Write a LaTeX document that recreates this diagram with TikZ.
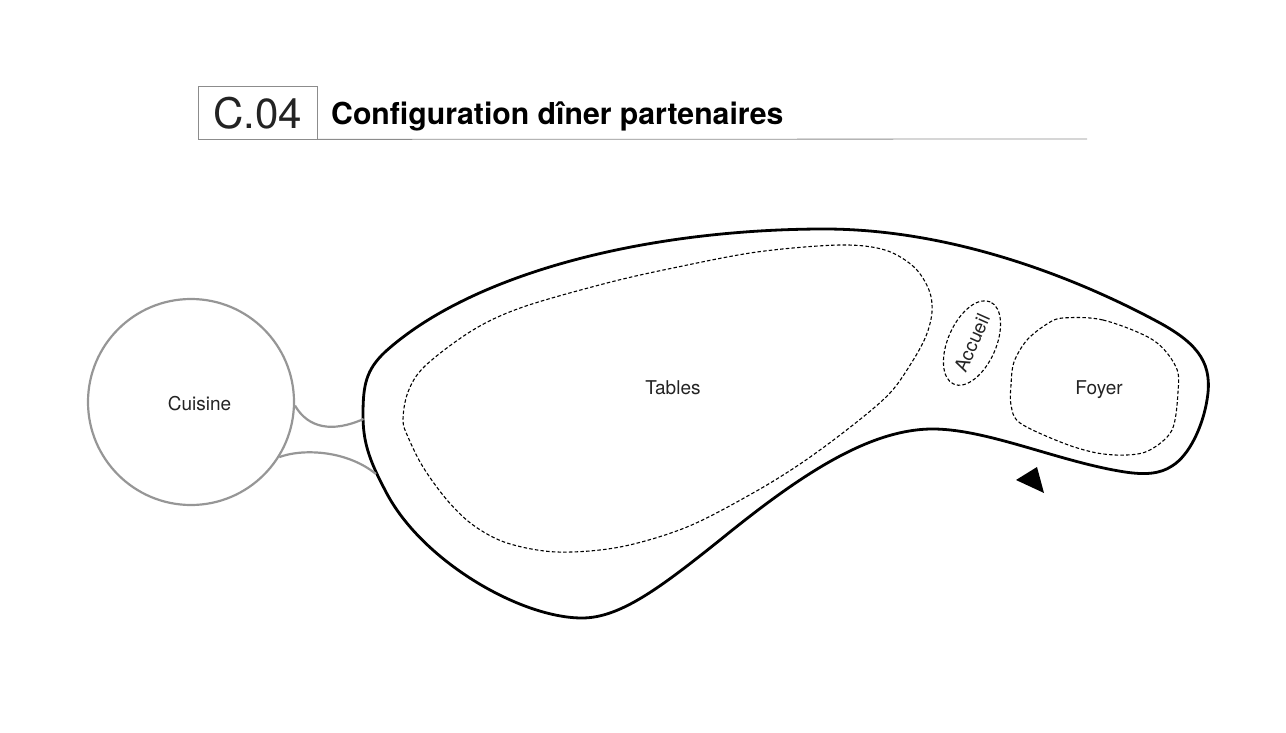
\documentclass[tikz,border=0pt]{standalone}
\usepackage{fontspec}
\setmainfont{TeX Gyre Heros}
\usetikzlibrary{shapes.geometric}
\definecolor{circgray}{RGB}{150,150,150}
\definecolor{rulegray}{RGB}{140,140,140}
\definecolor{labelcol}{RGB}{35,35,35}
\tikzset{
  outline/.style={line width=2.8pt, black, line join=round},
  zone/.style={line width=1.1pt, black, dash pattern=on 3.5pt off 2.2pt},
  link/.style={line width=2.2pt, circgray},
  lbl/.style={text=labelcol, font=\fontsize{19}{22}\selectfont, inner sep=0pt},
}
\begin{document}
\begin{tikzpicture}[x=1pt,y=-1pt]
\useasboundingbox (0,0) rectangle (1286,733);

% header
\node[draw=rulegray, line width=0.8pt, minimum width=119pt, minimum height=53pt, inner sep=0pt,
      font=\fontsize{42}{46}\selectfont, text=labelcol, text depth=0pt] (code) at (257.5,112.5) {C.04};
\coordinate (ruleend) at (1087,139);
\draw[rulegray, line width=0.8pt] (code.south east) -- (ruleend);
\node[anchor=base west, inner sep=0pt, font=\bfseries\fontsize{30.2}{34}\selectfont] (title) at (331,125) {Configuration dîner partenaires};

% main outline
\draw[outline] (363,415) .. controls (363,385) and (366,370) .. (385,352)
  .. controls (470,275) and (640,230) .. (820,229)
  .. controls (960,228) and (1090,285) .. (1160,323)
  .. controls (1200,345) and (1213,365) .. (1207,400)
  .. controls (1203,425) and (1190,455) .. (1172,466)
  .. controls (1160,474) and (1145,475) .. (1125,472)
  .. controls (1060,462) and (990,430) .. (935,429)
  .. controls (870,428) and (800,475) .. (720,540)
  .. controls (660,588) and (620,618) .. (582,618)
  .. controls (520,618) and (420,560) .. (385,490)
  .. controls (368,458) and (363,440) .. cycle;

% Tables zone
\draw[zone] plot[smooth cycle, tension=0.55] coordinates {
 (403,420) (408,392) (425,366) (473,330) (523,307) (607,283) (673,268) (757,252)
 (840,245) (885,250) (914,267) (929,290) (932,312) (926,336) (912,362) (890,393)
 (853,425) (803,462) (753,493) (687,527) (620,547) (557,552) (507,543) (473,525)
 (447,500) (423,467) (408,437)};

% Foyer zone
\draw[zone] plot[smooth cycle, tension=0.55] coordinates {
 (1063,318) (1103,320) (1153,340) (1176,367) (1178,392) (1172,430) (1150,450)
 (1127,455) (1097,453) (1063,443) (1020,423) (1011,405) (1011,385) (1014,362)
 (1027,340) (1047,324)};

% Accueil zone
\node[zone, draw, ellipse, rotate=66, minimum width=90pt, minimum height=48pt, inner sep=0pt,
      text=labelcol, font=\fontsize{19}{22}\selectfont] (accueil) at (972,343) {Accueil};

% labels
\node[lbl] (tables) at (673,388) {Tables};
\node[lbl] (foyer) at (1099,390) {Foyer};

% cuisine
\node[draw=circgray, line width=2.2pt, circle, minimum size=206pt, inner sep=0pt] (cuisine) at (191,402) {};
\node[lbl] (cuisinelbl) at (199.5,404) {Cuisine};

% connectors
\coordinate (j1) at (363.5,419);
\coordinate (j2) at (376,474);
\draw[link] (cuisine.-2) .. controls (308,428) and (332,433) .. (j1);
\draw[link] (cuisine.-32) .. controls (300,449) and (345,449) .. (j2);

% arrowhead
\coordinate (t1) at (1016,480);
\coordinate (t2) at (1037,467);
\coordinate (t3) at (1044,493);
\fill[black] (t1) -- (t2) -- (t3) -- cycle;
\end{tikzpicture}
\end{document}
